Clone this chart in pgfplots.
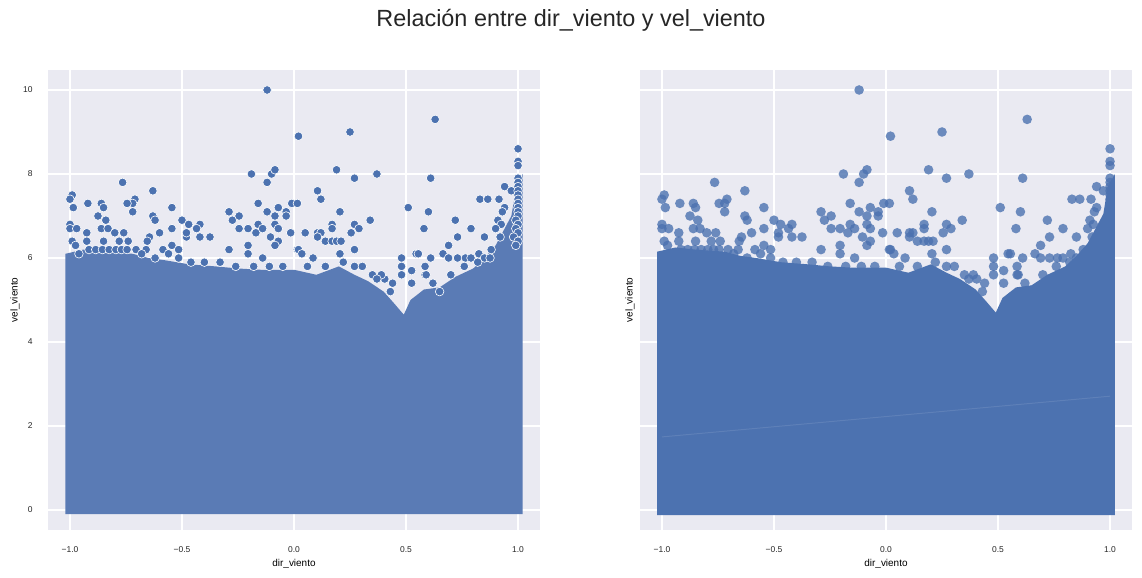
\documentclass[border=0pt]{standalone}
\usepackage{fontspec}
\setmainfont{Liberation Sans}
\usepackage{pgfplots}
\usepackage{pgfplotstable}
\pgfplotsset{compat=1.18}
\definecolor{bg}{RGB}{234,234,242}
\definecolor{sb}{RGB}{76,114,176}
\definecolor{sbmix}{RGB}{90,123,181}
\definecolor{txt}{RGB}{38,38,38}

% points standing out above the dense band
\pgfplotstableread{
x y
-0.12 10.0
0.02 8.9
0.25 9.0
0.63 9.3
1.0 8.6
1.0 8.3
1.0 8.2
0.19 8.1
0.27 7.9
0.37 8.0
0.61 7.9
-0.19 8.0
-0.10 8.0
-0.085 8.1
-0.12 7.8
-0.765 7.8
-0.99 7.5
-1.0 7.4
-0.985 7.2
-0.92 7.3
-0.86 7.3
-0.85 7.2
-0.875 7.0
-0.84 6.9
-0.71 7.4
-0.72 7.3
-0.745 7.3
-0.72 7.1
-0.63 7.6
-0.63 7.0
-0.62 6.9
-0.545 7.2
-0.5 6.9
-0.47 6.8
-0.42 6.8
-0.545 6.7
-0.6 6.6
-0.925 6.6
-1.0 6.8
-1.0 6.7
-0.97 6.7
-0.86 6.7
-0.83 6.7
-0.8 6.6
-0.76 6.6
-0.925 6.4
-0.99 6.4
-0.85 6.4
-0.78 6.4
-0.74 6.4
-0.645 6.5
-0.655 6.4
-0.48 6.5
-0.48 6.6
-0.42 6.5
-0.375 6.5
-0.435 6.7
-0.705 6.2
-0.66 6.2
-0.585 6.2
-0.545 6.3
-0.515 6.2
-0.56 6.1
-0.975 6.3
-0.01 7.3
-0.16 7.3
-0.29 7.1
-0.275 6.9
-0.245 7.0
-0.12 7.1
-0.085 7.0
-0.07 7.2
-0.035 7.1
-0.035 7.0
-0.245 6.7
-0.205 6.7
-0.17 6.6
-0.16 6.8
-0.14 6.7
-0.105 6.5
-0.085 6.8
-0.07 6.7
-0.07 6.4
-0.085 6.3
-0.015 6.6
-0.205 6.3
-0.205 6.1
-0.14 6.0
0.015 6.2
-0.29 6.2
0.105 7.6
0.12 7.4
0.015 7.3
0.205 7.1
0.51 7.2
0.6 7.1
0.34 6.9
0.27 6.8
0.29 6.7
0.255 6.6
0.17 6.8
0.17 6.7
0.105 6.6
0.12 6.6
0.105 6.5
0.05 6.6
0.14 6.4
0.17 6.4
0.19 6.4
0.21 6.4
0.58 6.7
0.72 6.9
0.73 6.5
0.79 6.7
0.69 6.3
0.83 7.4
0.865 7.4
0.915 7.4
0.94 7.7
0.97 7.6
1.0 7.9
1.0 7.8
0.94 7.2
0.93 7.1
0.91 6.9
0.925 6.8
0.9 6.7
0.85 6.5
0.02 6.2
0.035 6.1
0.085 6.0
0.205 6.1
0.27 6.2
0.48 6.0
0.545 6.1
0.61 6.0
0.665 6.1
0.69 6.0
0.73 6.0
0.765 6.0
0.79 6.0
0.825 6.1
0.85 6.0
0.875 6.0
0.14 5.8
0.27 5.8
0.305 5.8
0.48 5.8
0.48 5.6
0.585 5.8
0.585 5.6
0.525 5.7
0.405 5.5
0.44 5.4
0.39 5.6
0.43 5.2
0.525 5.4
0.59 5.6
0.555 6.1
0.65 5.2
1.0 7.7
1.0 7.6
1.0 7.5
1.0 7.4
1.0 7.3
1.0 7.2
1.0 7.1
1.0 7.0
0.99 6.9
1.0 6.8
0.99 6.7
1.0 6.6
0.98 6.5
1.0 6.4
0.99 6.3
-0.915 6.2
-0.885 6.2
-0.855 6.2
-0.825 6.2
-0.795 6.2
-0.77 6.2
-0.745 6.2
-0.96 6.1
-0.68 6.1
-0.62 6.0
-0.515 6.0
-0.46 5.9
-0.40 5.9
-0.33 5.9
-0.26 5.8
-0.18 5.8
-0.11 5.8
-0.05 5.8
0.06 5.8
0.22 5.9
0.35 5.6
0.37 5.5
0.62 5.4
0.70 5.6
0.76 5.8
0.82 5.9
0.88 6.2
0.92 6.5
}\outliers

% upper edge of the dense band of points (left panel)
\pgfplotstableread{
x y
-1.02 -0.1
-1.02 6.1
-0.94 6.2
-0.85 6.15
-0.72 6.1
-0.65 6.0
-0.58 5.95
-0.47 5.85
-0.35 5.8
-0.25 5.75
-0.15 5.72
0.0 5.72
0.1 5.6
0.2 5.8
0.27 5.6
0.33 5.45
0.4 5.2
0.45 4.9
0.49 4.65
0.52 5.0
0.58 5.25
0.65 5.3
0.72 5.55
0.8 5.75
0.85 6.0
0.9 6.3
0.94 6.7
0.97 7.0
0.99 7.6
1.02 8.0
1.02 -0.1
}\bandL

% upper edge of the dense band of points (right panel, larger markers)
\pgfplotstableread{
x y
-1.022 -0.12
-1.022 6.15
-0.94 6.25
-0.85 6.2
-0.72 6.15
-0.65 6.05
-0.58 6.0
-0.47 5.9
-0.35 5.85
-0.25 5.8
-0.15 5.77
0.0 5.77
0.1 5.65
0.2 5.85
0.27 5.65
0.33 5.5
0.4 5.25
0.45 4.95
0.49 4.7
0.52 5.05
0.58 5.3
0.65 5.35
0.72 5.6
0.8 5.8
0.85 6.05
0.9 6.35
0.94 6.75
0.97 7.05
0.99 7.7
1.022 8.0
1.022 -0.12
}\bandR

\pgfplotsset{
  sbstyle/.style={
    scale only axis, width=492bp, height=460bp,
    xmin=-1.098, xmax=1.098, ymin=-0.476, ymax=10.476,
    axis background/.style={fill=bg},
    axis line style={draw=none},
    major tick length=0pt,
    grid=major,
    major grid style={white, line width=1.2bp},
    xtick={-1,-0.5,0,0.5,1},
    xticklabels={−1.0,−0.5,0.0,0.5,1.0},
    ytick={0,2,4,6,8,10},
    tick label style={font=\fontsize{8.5}{10}\selectfont, text=txt},
    xticklabel style={anchor=base, yshift=-22.3bp},
    yticklabel style={anchor=east, xshift=-12bp},
    label style={font=\fontsize{9.8}{12}\selectfont, text=txt},
    xlabel={dir\_viento},
    ylabel={vel\_viento},
    every axis x label/.style={at={(axis description cs:0.5,-0.0804)}, anchor=base},
  },
}

\begin{document}
\begin{tikzpicture}
\useasboundingbox (-48bp,-48bp) rectangle (1094bp,530bp);

\begin{axis}[sbstyle,
  yticklabels={0,2,4,6,8,10},
  every axis y label/.style={at={(axis description cs:-0.067,0.5)}, rotate=90, anchor=center},
]
\addplot[fill=sbmix, draw=none] table[x=x,y=y] {\bandL} -- cycle;
\addplot[color=sb, only marks, mark=*, mark size=4.3bp,
  mark options={fill=sb, draw=white, line width=0.6bp}] table[x=x,y=y] {\outliers};
\end{axis}

\begin{axis}[sbstyle, at={(592bp,0)},
  yticklabels={},
  every axis y label/.style={at={(axis description cs:-0.0203,0.5)}, rotate=90, anchor=center},
]
\addplot[fill=sb, draw=none] table[x=x,y=y] {\bandR} -- cycle;
\addplot[color=sb, only marks, mark=*, mark size=4.8bp,
  mark options={fill=sb, draw opacity=0, fill opacity=0.8}] table[x=x,y=y] {\outliers};
\addplot[color=sb!90!white, line width=1bp] coordinates {(-1,1.74) (1,2.71)};
\end{axis}

\node[anchor=base, font=\fontsize{23.5}{28}\selectfont, text=txt] at (523bp,503bp)
  {Relación entre dir\_viento y vel\_viento};
\end{tikzpicture}
\end{document}
